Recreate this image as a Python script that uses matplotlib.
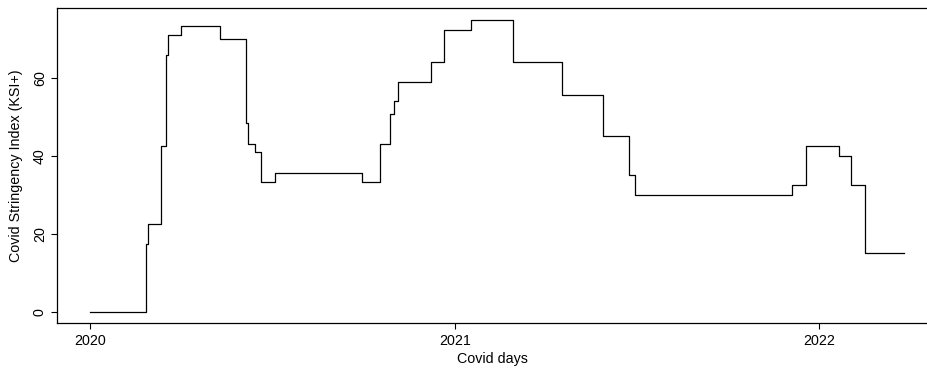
import matplotlib
matplotlib.use("Agg")
import matplotlib.pyplot as plt
import datetime as dt

plt.rcParams['font.family'] = ['Liberation Sans', 'DejaVu Sans']

change_dates = [
    "2020-01-01", "2020-02-26", "2020-02-28", "2020-03-01", "2020-03-12",
    "2020-03-17", "2020-03-19", "2020-04-01", "2020-05-10", "2020-06-05",
    "2020-06-07", "2020-06-14", "2020-06-21", "2020-07-05", "2020-09-30",
    "2020-10-18", "2020-10-28", "2020-11-01", "2020-11-05", "2020-12-08",
    "2020-12-21", "2021-01-17", "2021-02-28", "2021-04-18", "2021-05-30",
    "2021-06-25", "2021-07-01", "2021-12-05", "2021-12-19", "2022-01-21",
    "2022-02-02", "2022-02-16", "2022-03-27",
]
ksi_values = [
    0.0, 17.4, 22.5, 22.5, 42.6,
    65.9, 70.9, 73.3, 69.9, 48.4,
    43.2, 40.9, 33.3, 35.7, 33.3,
    43.2, 50.7, 54.2, 59.1, 64.1,
    72.4, 74.9, 64.1, 55.7, 45.0,
    35.0, 30.0, 32.6, 42.5, 40.0,
    32.6, 15.0, 15.0,
]
year_ticks = ["2020-01-01", "2021-01-01", "2022-01-01"]
year_labels = ["2020", "2021", "2022"]
y_ticks = [0, 20, 40, 60]

dates = [dt.datetime.strptime(d, "%Y-%m-%d") for d in change_dates]

fig = plt.figure(figsize=(9.27, 3.72), dpi=100)
ax = fig.add_axes([57.3 / 927, 1 - 323.3 / 372, 1 - 57.3 / 927, (323.3 - 8) / 372])

ax.plot(dates, ksi_values, drawstyle="steps-post", color="black", lw=0.9)

start = dt.datetime(2020, 1, 1)
ax.set_xlim(start - dt.timedelta(days=32.8), start + dt.timedelta(days=839.5))
ax.set_ylim(-2.9, 77.95)

ax.set_xticks([dt.datetime.strptime(d, "%Y-%m-%d") for d in year_ticks])
ax.set_xticklabels(year_labels)
ax.set_yticks(y_ticks)
ax.set_yticklabels([str(v) for v in y_ticks], rotation=90, va="center")

ax.tick_params(axis="both", length=4.5, width=0.8, labelsize=10.3, colors="black", pad=3)
for s in ["left", "bottom", "top"]:
    ax.spines[s].set_linewidth(0.9)
ax.spines["right"].set_visible(False)

ax.set_xlabel("Covid days", fontsize=10.3, labelpad=3)
ax.set_ylabel("Covid Stringency Index (KSI+)", fontsize=10.3, labelpad=7)

fig.savefig("out.png", dpi=100)
